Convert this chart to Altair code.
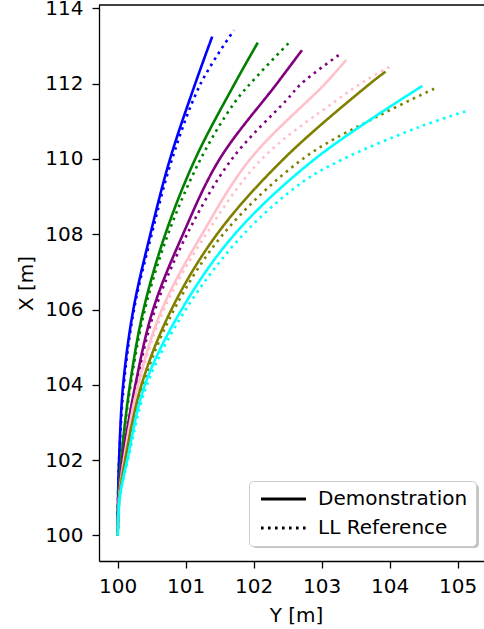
import altair as alt
import pandas as pd

SERIES = ["blue", "green", "purple", "pink", "olive", "cyan"]
COLORS = ["#0000ff", "#008000", "#800080", "#ffc0cb", "#808000", "#00ffff"]
KINDS = ["Demonstration", "LL Reference"]

X_TICKS = [100, 101, 102, 103, 104, 105]
Y_TICKS = [100, 102, 104, 106, 108, 110, 112, 114]

# Demonstration (solid) : X [m] (vertical) and Y [m] (horizontal)
BLUE_DEMO_X = [100, 101, 102, 104, 106, 108, 110, 112, 113.25]
BLUE_DEMO_Y = [100, 100.005, 100.02, 100.08, 100.23, 100.48, 100.77, 101.14, 101.39]
GREEN_DEMO_X = [100, 101, 102, 104, 106, 108, 110, 112, 113.09]
GREEN_DEMO_Y = [100, 100.01, 100.05, 100.18, 100.38, 100.70, 101.14, 101.72, 102.06]
PURPLE_DEMO_X = [100, 101, 102, 104, 106, 108, 110, 112, 112.89]
PURPLE_DEMO_Y = [100, 100.015, 100.07, 100.26, 100.52, 100.96, 101.50, 102.34, 102.71]
PINK_DEMO_X = [100, 101, 102, 104, 106, 108, 110, 112, 112.63]
PINK_DEMO_Y = [100, 100.02, 100.09, 100.30, 100.65, 101.24, 101.95, 103.05, 103.36]
OLIVE_DEMO_X = [100, 101, 102, 104, 106, 108, 110, 112, 112.32]
OLIVE_DEMO_Y = [100, 100.025, 100.11, 100.35, 100.79, 101.46, 102.44, 103.71, 103.94]
CYAN_DEMO_X = [100, 101, 102, 104, 106, 108, 110, 111.94]
CYAN_DEMO_Y = [100, 100.03, 100.14, 100.40, 100.94, 101.72, 102.90, 104.48]

# LL Reference (dotted)
BLUE_REF_X = [100, 101, 102, 104, 106, 108, 110, 112, 113.42]
BLUE_REF_Y = [100, 100.005, 100.02, 100.09, 100.24, 100.50, 100.80, 101.22, 101.71]
GREEN_REF_X = [100, 101, 102, 104, 106, 108, 110, 111.5, 112.2, 113.09]
GREEN_REF_Y = [100, 100.01, 100.05, 100.19, 100.40, 100.74, 101.22, 101.72, 102.05, 102.52]
PURPLE_REF_X = [100, 101, 102, 104, 106, 108, 110, 111.56, 112, 112.76]
PURPLE_REF_Y = [100, 100.015, 100.07, 100.27, 100.55, 101.02, 101.68, 102.48, 102.70, 103.25]
PINK_REF_X = [100, 101, 102, 104, 106, 108, 110, 111.56, 112.1, 112.45]
PINK_REF_Y = [100, 100.02, 100.09, 100.31, 100.68, 101.30, 102.12, 103.22, 103.66, 104.0]
OLIVE_REF_X = [100, 101, 102, 104, 106, 108, 110, 111.12, 111.88]
OLIVE_REF_Y = [100, 100.025, 100.11, 100.37, 100.83, 101.55, 102.72, 103.81, 104.67]
CYAN_REF_X = [100, 101, 102, 104, 106, 108, 109.4, 110, 110.86, 111.30]
CYAN_REF_Y = [100, 100.03, 100.15, 100.43, 101.0, 101.85, 102.73, 103.32, 104.45, 105.18]

DEMO = {
    "blue": (BLUE_DEMO_X, BLUE_DEMO_Y), "green": (GREEN_DEMO_X, GREEN_DEMO_Y),
    "purple": (PURPLE_DEMO_X, PURPLE_DEMO_Y), "pink": (PINK_DEMO_X, PINK_DEMO_Y),
    "olive": (OLIVE_DEMO_X, OLIVE_DEMO_Y), "cyan": (CYAN_DEMO_X, CYAN_DEMO_Y),
}
REF = {
    "blue": (BLUE_REF_X, BLUE_REF_Y), "green": (GREEN_REF_X, GREEN_REF_Y),
    "purple": (PURPLE_REF_X, PURPLE_REF_Y), "pink": (PINK_REF_X, PINK_REF_Y),
    "olive": (OLIVE_REF_X, OLIVE_REF_Y), "cyan": (CYAN_REF_X, CYAN_REF_Y),
}

rows = []
for s in SERIES:
    for kind, table in (("Demonstration", DEMO), ("LL Reference", REF)):
        xs, ys = table[s]
        for i, (xv, yv) in enumerate(zip(xs, ys)):
            rows.append({"series": s, "kind": kind, "X": xv, "Y": yv, "i": i})
df = pd.DataFrame(rows)

lines = alt.Chart(df).mark_line(strokeWidth=2.6, interpolate="catmull-rom", clip=True).encode(
    x=alt.X("Y:Q",
            scale=alt.Scale(domain=[99.725, 105.387], nice=False, zero=False),
            axis=alt.Axis(values=X_TICKS, title="Y [m]", labelPadding=8, labelFlush=False,
                          titleX=197, titleY=60, titleBaseline="alphabetic", titleAlign="center")),
    y=alt.Y("X:Q",
            scale=alt.Scale(domain=[99.32, 114.09], nice=False, zero=False),
            axis=alt.Axis(values=Y_TICKS, title="X [m]", labelPadding=9, labelFlush=False,
                          titleAngle=270, titleX=-73, titleY=278, titleAlign="center",
                          titleBaseline="middle")),
    color=alt.Color("series:N", scale=alt.Scale(domain=SERIES, range=COLORS), legend=None),
    strokeDash=alt.StrokeDash("kind:N",
                              scale=alt.Scale(domain=KINDS, range=[[1, 0], [2.6, 4.4]]),
                              legend=alt.Legend(title=None, orient="none", legendX=150, legendY=476,
                                                fillColor="white", strokeColor="#cccccc",
                                                cornerRadius=4, padding=8,
                                                symbolType="M-1.2,0H7.8", symbolSize=100,
                                                symbolStrokeWidth=2.8, symbolStrokeColor="black",
                                                symbolFillColor="transparent",
                                                labelFont="DejaVu Sans", labelFontSize=20,
                                                labelColor="black", labelOffset=41, rowPadding=9)),
    detail="series:N",
    order=alt.Order("i:Q"),
)

one = pd.DataFrame({"a": [0]})
top_spine = alt.Chart(one).mark_rule(color="black", strokeWidth=1.3).encode(
    x=alt.value(0), x2=alt.value(385), y=alt.value(0))
shadow = alt.Chart(one).mark_rect(color="#c4c4c4", cornerRadius=4).encode(
    x=alt.value(153), x2=alt.value(380), y=alt.value(479), y2=alt.value(543))

chart = alt.layer(shadow, lines, top_spine).properties(
    width=385, height=556,
    padding={"left": 99, "top": 5, "right": 0, "bottom": 68},
    autosize=alt.AutoSizeParams(type="none"),
).configure_view(stroke=None).configure_axis(
    grid=False, domainColor="black", domainWidth=1.3, tickColor="black", tickWidth=1.3,
    tickSize=7, labelFont="DejaVu Sans", labelFontSize=20, labelColor="black",
    titleFont="DejaVu Sans", titleFontSize=20, titleFontWeight="normal", titleColor="black",
)

chart.save("out.html", embed_options={"renderer": "svg", "actions": False})
